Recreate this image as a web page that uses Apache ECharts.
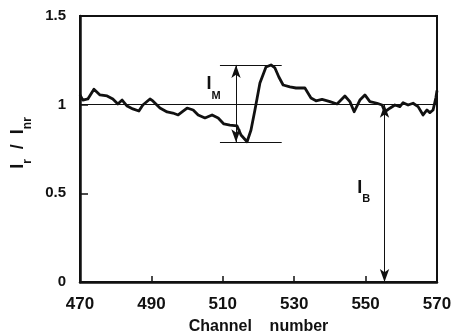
<!DOCTYPE html>
<html><head><meta charset="utf-8">
<script src="https://cdn.jsdelivr.net/npm/echarts@6/dist/echarts.min.js"></script>
<style>html,body{margin:0;padding:0;background:#fff}#c{width:458px;height:334px}</style>
</head><body><div id="c"></div>
<script>
const channels = [470, 470.8, 472.2, 473.9, 475.6, 477.6, 479.2, 480.6, 481.8, 483.2, 484.8, 486.5, 487.6, 489.6, 490.4, 492.4, 494.4, 496.0, 497.5, 498.6, 500.0, 501.7, 503.1, 505.0, 507.0, 508.7, 510.3, 512.0, 514.0, 515.1, 516.8, 517.9, 519.0, 520.4, 522.1, 523.5, 524.6, 525.7, 526.9, 528.8, 530.5, 533.0, 534.7, 536.1, 537.8, 540.0, 542.0, 544.2, 545.6, 546.8, 548.4, 549.8, 551.2, 553.2, 554.6, 555.4, 556.8, 558.2, 559.6, 560.5, 561.9, 563.3, 564.7, 566.1, 567.2, 568.0, 568.9, 569.7, 570];
const ratios = [1.055, 1.026, 1.032, 1.087, 1.055, 1.049, 1.032, 1.004, 1.026, 0.992, 0.976, 0.964, 0.998, 1.032, 1.021, 0.981, 0.959, 0.953, 0.942, 0.959, 0.981, 0.970, 0.942, 0.925, 0.942, 0.925, 0.891, 0.885, 0.880, 0.829, 0.791, 0.857, 0.970, 1.122, 1.212, 1.224, 1.207, 1.156, 1.111, 1.100, 1.094, 1.094, 1.038, 1.022, 1.030, 1.017, 1.004, 1.049, 1.017, 0.960, 1.026, 1.055, 1.017, 1.008, 0.998, 0.960, 0.980, 0.998, 0.989, 1.011, 0.998, 1.008, 0.989, 0.942, 0.970, 0.955, 0.970, 1.04, 1.08];
const xTicks = [470, 490, 510, 530, 550, 570];
const yTicks = [0, 0.5, 1, 1.5];
const xLabels = ['470', '490', '510', '530', '550', '570'];
const yLabels = ['0', '0.5', '1', '1.5'];
const baseline = 1;
const imChannel = 513.7, imTop = 1.224, imBottom = 0.788, imFrom = 509.2, imTo = 526.5;
const ibChannel = 555.3, ibTop = 1.0, ibBottom = 0;
const imLabelPos = [507.4, 1.094];
const ibLabelPos = [549.5, 0.51];

const font = '"Liberation Sans", Arial, Helvetica, sans-serif';
const chart = echarts.init(document.getElementById('c'), null, {renderer: 'canvas'});
const blk = '#111';
const mkRich = (big, small, lh) => ({
  i: {fontFamily: font, fontSize: big, fontWeight: 'bold', color: blk, verticalAlign: 'top', lineHeight: lh},
  s: {fontFamily: font, fontSize: small, fontWeight: 'bold', color: blk, verticalAlign: 'bottom', lineHeight: small},
  p: {width: 12}
});
const data = channels.map((c, k) => [c, ratios[k]]);
chart.setOption({
  animation: false,
  grid: {left: 80, right: 21, top: 16, bottom: 52, show: true, borderColor: blk, borderWidth: 2, containLabel: false, outerBoundsMode: 'none'},
  xAxis: {
    type: 'value', min: 470, max: 570,
    axisLine: {show: true, lineStyle: {color: blk, width: 2.5}},
    axisTick: {show: true, inside: true, length: 6, lineStyle: {color: blk, width: 1.5}, customValues: xTicks},
    axisLabel: {customValues: xTicks, formatter: v => xLabels[xTicks.indexOf(v)], fontFamily: font, fontSize: 17, fontWeight: 'bold', color: blk, margin: 14},
    splitLine: {show: false},
    name: 'Channel    number', nameLocation: 'middle', nameGap: 37,
    nameTextStyle: {fontFamily: font, fontSize: 16, fontWeight: 'bold', color: blk}
  },
  yAxis: {
    type: 'value', min: 0, max: 1.5,
    axisLine: {show: true, lineStyle: {color: blk, width: 2.5}},
    axisTick: {show: true, inside: true, length: 8, lineStyle: {color: blk, width: 1.5}, customValues: yTicks},
    axisLabel: {customValues: yTicks, formatter: v => yLabels[yTicks.indexOf(v)], fontFamily: font, fontSize: 15, fontWeight: 'bold', color: blk, margin: 14, padding: [6, 0, 0, 0]},
    splitLine: {show: false},
    name: '{p|}{i|I}{s|r}{i|  /  I}{s|nr}', nameLocation: 'middle', nameGap: 46, nameRotate: 90,
    nameTextStyle: {rich: mkRich(18, 12, 25)}
  },
  series: [{
    type: 'line', data: data, showSymbol: false, symbol: 'none',
    lineStyle: {color: blk, width: 2.8, join: 'round'},
    z: 3,
    markLine: {
      silent: true, animation: false,
      symbol: ['none', 'none'],
      label: {show: false},
      lineStyle: {color: blk, width: 1, type: 'solid'},
      data: [
        [{coord: [470, baseline]}, {coord: [570, baseline]}],
        [{coord: [imFrom, imTop]}, {coord: [imTo, imTop]}],
        [{coord: [imFrom, imBottom]}, {coord: [imTo, imBottom]}],
        [{coord: [imChannel, imBottom], symbol: 'arrow', symbolSize: [7, 13]}, {coord: [imChannel, imTop], symbol: 'arrow', symbolSize: [7, 13]}],
        [{coord: [ibChannel, ibTop], symbol: 'arrow', symbolSize: [7, 13]}, {coord: [ibChannel, ibBottom], symbol: 'arrow', symbolSize: [7, 13]}]
      ]
    },
    markPoint: {
      silent: true, symbol: 'circle', symbolSize: 0,
      label: {show: true, position: 'inside', rich: mkRich(18, 11, 26)},
      data: [
        {coord: imLabelPos, label: {formatter: '{i|I}{s|M}'}},
        {coord: ibLabelPos, label: {formatter: '{i|I}{s|B}'}}
      ]
    }
  }]
});
</script></body></html>
